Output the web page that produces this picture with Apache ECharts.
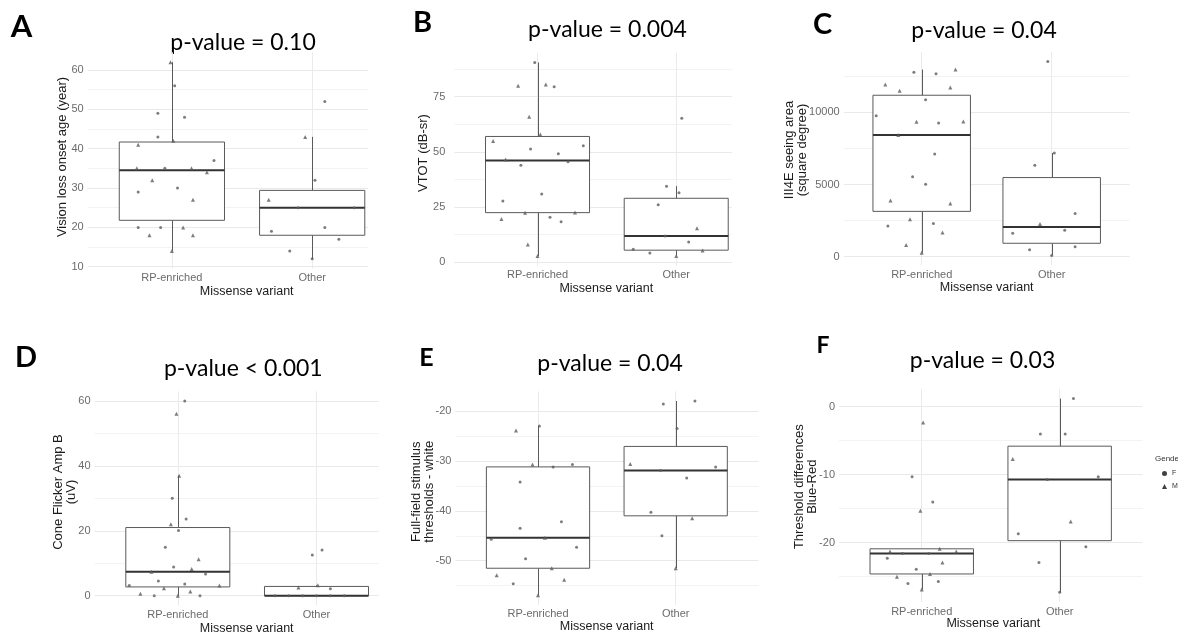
<!DOCTYPE html>
<html><head><meta charset="utf-8">
<script src="https://cdn.jsdelivr.net/npm/echarts@6/dist/echarts.min.js"></script>
<style>html,body{margin:0;padding:0;background:#fff}#chart{width:1178px;height:632px}</style>
</head><body><div id="chart"></div>
<script>
const categories = ['RP-enriched', 'Other'];
const genders = ['F', 'M'];
const legendTitle = 'Gender';
const xTitle = 'Missense variant';
const panelLetters = ['A', 'B', 'C', 'D', 'E', 'F'];
const pValueLabels = ['p-value = 0.10', 'p-value = 0.004', 'p-value = 0.04', 'p-value < 0.001', 'p-value = 0.04', 'p-value = 0.03'];
const yTitles = ['Vision loss onset age (year)', 'VTOT (dB-sr)', 'III4E seeing area\n(square degree)', 'Cone Flicker Amp B\n(uV)', 'Full-field stimulus\nthresholds - white', 'Threshold differences\nBlue-Red'];
const tickSteps = [10, 25, 5000, 20, 10, 10];

// Panel A: vision loss onset age
const A_rpValues = [62, 56, 49, 48, 43, 41, 42, 37, 35, 35, 35, 34, 32, 29, 30, 27, 20, 20, 20, 18, 18, 14];
const A_rpJitter = [-0.01, 0.02, -0.10, 0.09, -0.10, -0.24, 0.01, 0.30, -0.25, -0.05, 0.14, 0.25, -0.14, -0.24, 0.04, 0.15, -0.24, -0.08, 0.08, -0.16, 0.15, 0.00];
const A_rpGender = ['M','F','F','F','F','M','M','F','M','F','M','M','M','F','F','M','F','F','M','M','M','M'];
const A_otherValues = [52, 43, 32, 27, 25, 25, 19, 20, 17, 14, 12];
const A_otherJitter = [0.09, -0.05, 0.02, -0.31, -0.10, 0.30, -0.29, 0.09, 0.19, -0.16, 0.00];
const A_otherGender = ['F','M','F','M','F','F','F','F','F','F','F'];
const A_box = [[14, 21.8, 34.5, 41.7, 62], [12, 18, 25, 29.4, 43]];

// Panel B: VTOT
const B_rpValues = [90.5, 80, 80.5, 79.5, 65.9, 57.9, 54.9, 52.8, 51.3, 49.2, 46.6, 45.6, 44, 30.9, 27.8, 22.5, 22.6, 19.6, 20.4, 18.4, 8.1, 2.9];
const B_rpJitter = [-0.02, -0.14, 0.06, 0.12, -0.06, 0.02, -0.32, 0.33, -0.05, 0.15, -0.23, 0.22, -0.12, 0.03, -0.25, -0.09, 0.27, -0.26, 0.09, 0.17, -0.07, 0.00];
const B_rpGender = ['F','M','M','F','M','M','M','F','F','F','M','F','F','F','F','M','M','M','F','F','M','M'];
const B_otherValues = [65.2, 34.5, 31.5, 26.1, 15.4, 11.9, 9.2, 5.9, 4.2, 2.9, 5.4];
const B_otherJitter = [0.04, -0.07, 0.02, -0.13, 0.15, -0.08, 0.09, -0.31, -0.19, 0.00, 0.19];
const B_otherGender = ['F','F','F','F','M','F','F','F','F','M','M'];
const B_box = [[2.9, 22.5, 46.1, 57, 90.5], [2.9, 5.5, 11.9, 29, 34.5]];

// Panel C: III4E seeing area
const C_rpValues = [12780, 12660, 12960, 11920, 11490, 11720, 10870, 9760, 9350, 9250, 9370, 8430, 7110, 5530, 5020, 3890, 3680, 2600, 2120, 2300, 1680, 810, 280];
const C_rpJitter = [-0.06, 0.11, 0.26, -0.28, -0.17, 0.22, 0.03, -0.35, -0.04, 0.13, 0.32, -0.18, 0.10, -0.07, 0.03, -0.24, 0.22, -0.09, -0.26, 0.09, 0.16, -0.12, 0.00];
const C_rpGender = ['F','F','M','M','M','M','F','F','M','F','M','M','F','F','F','M','M','M','F','F','M','M','M'];
const C_otherValues = [13510, 7180, 6330, 2990, 2260, 1840, 1630, 480, 690, 90];
const C_otherJitter = [-0.03, 0.02, -0.13, 0.18, -0.09, 0.10, -0.30, -0.17, 0.18, 0.00];
const C_otherGender = ['F','F','F','F','M','F','F','F','F','F'];
const C_box = [[280, 3140, 8430, 11180, 12960], [90, 930, 2050, 5480, 7180]];

// Panel D: cone flicker amplitude
const D_rpValues = [60, 56.1, 37, 30, 22, 23.6, 20.1, 14.9, 11.2, 8.8, 8.2, 6.7, 7.4, 4.5, 3.6, 3.1, 3.1, 2.3, 0.6, 1.3, 0, 0, 0];
const D_rpJitter = [0.05, -0.01, 0.01, -0.04, -0.05, 0.06, 0.005, -0.09, 0.15, -0.03, 0.10, 0.20, -0.19, -0.14, 0.05, -0.35, 0.30, -0.10, -0.27, 0.09, -0.17, 0.00, 0.16];
const D_rpGender = ['F','M','M','F','M','F','F','F','M','F','M','F','M','F','F','F','M','M','M','M','F','M','F'];
const D_otherValues = [14.1, 12.5, 3.2, 2.5, 2.1, 0, 0, 0, 0, 0, 0];
const D_otherJitter = [0.04, -0.03, 0.01, -0.13, 0.10, -0.30, -0.20, -0.10, 0.00, 0.10, 0.20];
const D_otherGender = ['F','F','M','M','F','F','F','F','F','F','F'];
const D_box = [[0, 2.7, 7.4, 21, 37], [0, 0, 0, 2.85, 3.2]];

// Panel E: full-field stimulus thresholds - white
const E_rpValues = [-23, -23.9, -30.7, -31.2, -30.7, -34.2, -43.5, -42.2, -45.7, -45.4, -47.3, -49.6, -51.5, -52.9, -54.6, -53.8, -56.9];
const E_rpJitter = [0.01, -0.16, -0.04, 0.11, 0.25, -0.13, -0.13, 0.17, -0.34, 0.05, 0.28, -0.09, 0.10, -0.30, -0.18, 0.19, 0.00];
const E_rpGender = ['F','M','M','F','F','F','F','F','F','M','F','F','M','M','F','M','M'];
const E_otherValues = [-18.6, -18, -23.5, -30.6, -31.9, -31.2, -33.4, -40.3, -41.5, -45, -51.5];
const E_otherJitter = [-0.09, 0.14, 0.01, -0.33, -0.11, 0.29, 0.08, -0.18, 0.12, -0.10, 0.00];
const E_otherGender = ['F','F','F','M','F','F','F','F','M','F','M'];
const E_box = [[-56.9, -51.5, -45.4, -31.2, -23], [-51.5, -41, -31.9, -27.1, -18]];

// Panel F: threshold differences blue-red
const F_rpValues = [-2.3, -10.3, -14, -15.3, -21.3, -21.6, -21.6, -20.9, -21.3, -22.3, -22.9, -23.9, -24.6, -25, -26, -25.7, -26.9];
const F_rpJitter = [0.01, -0.07, 0.08, -0.01, -0.23, -0.14, 0.05, 0.13, 0.25, -0.25, 0.15, -0.04, 0.06, -0.18, -0.10, 0.12, 0.00];
const F_rpGender = ['M','F','F','M','M','F','F','M','M','F','M','F','M','M','F','F','M'];
const F_otherValues = [1.2, -4, -4, -7.7, -10.7, -10.3, -16.9, -18.7, -20.6, -22.9, -27.3];
const F_otherJitter = [0.10, -0.14, 0.04, -0.34, -0.09, 0.28, 0.08, -0.30, 0.19, -0.15, 0.00];
const F_otherGender = ['F','F','F','M','F','F','M','F','F','F','F'];
const F_box = [[-26.9, -24.6, -21.6, -20.9, -20.9], [-27.3, -19.7, -10.7, -5.8, 1.2]];

const panelData = [
  [[A_rpValues, A_rpJitter, A_rpGender], [A_otherValues, A_otherJitter, A_otherGender], A_box],
  [[B_rpValues, B_rpJitter, B_rpGender], [B_otherValues, B_otherJitter, B_otherGender], B_box],
  [[C_rpValues, C_rpJitter, C_rpGender], [C_otherValues, C_otherJitter, C_otherGender], C_box],
  [[D_rpValues, D_rpJitter, D_rpGender], [D_otherValues, D_otherJitter, D_otherGender], D_box],
  [[E_rpValues, E_rpJitter, E_rpGender], [E_otherValues, E_otherJitter, E_otherGender], E_box],
  [[F_rpValues, F_rpJitter, F_rpGender], [F_otherValues, F_otherJitter, F_otherGender], F_box]
];

// ---- layout & style (pixels) ----
const layout = [
  {grid: [87.7, 52.3, 280.6, 216.4], xMax: 2.4, yMargin: 4, letter: [21.5, 27, 31], p: [243, 42.5], yt: [62, 157], xt: [246.7, 291.7]},
  {grid: [454.3, 52.8, 277.4, 212.8], xMax: 2.4, yMargin: 9, letter: [422.5, 23, 29], p: [607.5, 29.7], yt: [423, 153], xt: [606.3, 288.3]},
  {grid: [843.7, 51.9, 286, 213.2], xMax: 2.6, yMargin: 4, letter: [822.5, 25, 29], p: [984, 30.8], yt: [796, 150], xt: [986.7, 287.3]},
  {grid: [94.6, 391.3, 284.3, 214.1], xMax: 2.45, yMargin: 4, letter: [26, 358, 29], p: [243.3, 369], yt: [64.5, 492], xt: [246.7, 628.3]},
  {grid: [455.4, 391.3, 302.9, 213.6], xMax: 2.6, yMargin: 4, letter: [426.5, 357.5, 25], p: [610, 364], yt: [422.5, 491.7], xt: [606.7, 626.7]},
  {grid: [839, 388.9, 303.4, 213.1], xMax: 2.6, yMargin: 4, letter: [823, 346, 23], p: [982.5, 361], yt: [805.8, 486.7], xt: [993.3, 624]}
];
const BOX_HALF = 0.375;
const boxStroke = '#5a5a5a';
const pointColor = '#5c5c5c';
const tickFont = 'Liberation Sans';
const titleFont = 'Lato';

function renderBox(params, api) {
  const x = api.value(0);
  const pMin = api.coord([x, api.value(1)]);
  const pQ1 = api.coord([x - BOX_HALF, api.value(2)]);
  const pMedL = api.coord([x - BOX_HALF, api.value(3)]);
  const pMedR = api.coord([x + BOX_HALF, api.value(3)]);
  const pQ3 = api.coord([x + BOX_HALF, api.value(4)]);
  const pMax = api.coord([x, api.value(5)]);
  const cx = Math.round(pMin[0]) + 0.5;
  const ls = {stroke: boxStroke, lineWidth: 1};
  return {type: 'group', children: [
    {type: 'line', shape: {x1: cx, y1: pMax[1], x2: cx, y2: pQ3[1]}, style: ls},
    {type: 'line', shape: {x1: cx, y1: pQ1[1], x2: cx, y2: pMin[1]}, style: ls},
    {type: 'rect', shape: {x: pQ1[0], y: pQ3[1], width: pQ3[0] - pQ1[0], height: pQ1[1] - pQ3[1]}, style: {fill: '#fff', stroke: boxStroke, lineWidth: 1}},
    {type: 'line', shape: {x1: pMedL[0], y1: pMedL[1], x2: pMedR[0], y2: pMedR[1]}, style: {stroke: '#333', lineWidth: 2}}
  ]};
}

function isMultiple(v, step) { const r = v / step; return Math.abs(r - Math.round(r)) < 1e-6; }

const grids = [], xAxes = [], yAxes = [], series = [], graphics = [];
panelData.forEach((pd, i) => {
  const L = layout[i];
  const groups = [pd[0], pd[1]];
  const box = pd[2];
  let lo = Infinity, hi = -Infinity;
  groups.forEach(g => g[0].forEach(v => { lo = Math.min(lo, v); hi = Math.max(hi, v); }));
  box.forEach(b => { lo = Math.min(lo, b[0]); hi = Math.max(hi, b[4]); });
  const pad = (hi - lo) * 0.05;
  const step = tickSteps[i];
  grids.push({left: L.grid[0], top: L.grid[1], width: L.grid[2], height: L.grid[3]});
  xAxes.push({
    type: 'value', gridIndex: i, min: 0.4, max: L.xMax, minInterval: 1, maxInterval: 1,
    axisLine: {show: false}, axisTick: {show: false},
    splitLine: {show: true, showMinLine: false, showMaxLine: false, lineStyle: {color: '#ebebeb', width: 1}},
    axisLabel: {margin: 4, fontSize: 11, fontFamily: tickFont, color: '#6b6b6b',
      formatter: v => (Math.abs(v - 1) < 1e-6 ? categories[0] : (Math.abs(v - 2) < 1e-6 ? categories[1] : ''))}
  });
  yAxes.push({
    type: 'value', gridIndex: i, min: lo - pad, max: hi + pad, minInterval: step, maxInterval: step,
    axisLine: {show: false}, axisTick: {show: false},
    splitLine: {show: true, showMinLine: false, showMaxLine: false, lineStyle: {color: '#e9e9e9', width: 1}},
    minorTick: {show: false, splitNumber: 2},
    minorSplitLine: {show: true, lineStyle: {color: '#f3f3f3', width: 1}},
    axisLabel: {margin: L.yMargin, fontSize: 11, fontFamily: tickFont, color: '#6b6b6b',
      formatter: v => (isMultiple(v, step) ? String(Math.round(v)) : '')}
  });
  series.push({
    type: 'custom', xAxisIndex: i, yAxisIndex: i, renderItem: renderBox, silent: true, z: 2,
    encode: {x: 0, y: [1, 2, 3, 4, 5]},
    data: box.map((b, k) => [k + 1].concat(b))
  });
  genders.forEach((gname, gi) => {
    const pts = [];
    groups.forEach((g, k) => {
      g[0].forEach((v, j) => { if (g[2][j] === gname) pts.push([k + 1 + g[1][j], v]); });
    });
    series.push({
      type: 'scatter', name: gname, xAxisIndex: i, yAxisIndex: i, z: 3, silent: true,
      symbol: gi === 0 ? 'circle' : 'triangle', symbolSize: gi === 0 ? 3 : 4,
      itemStyle: {color: pointColor}, data: pts
    });
  });
  graphics.push({type: 'text', x: L.letter[0], y: L.letter[1], style: {text: panelLetters[i], fontFamily: titleFont, fontWeight: 'bold', fontSize: L.letter[2], fill: '#000', align: 'center', verticalAlign: 'middle'}});
  graphics.push({type: 'text', x: L.p[0], y: L.p[1], style: {text: pValueLabels[i], fontFamily: titleFont, fontSize: 23, fill: '#000', align: 'center', verticalAlign: 'middle'}});
  graphics.push({type: 'text', x: L.yt[0], y: L.yt[1], rotation: Math.PI / 2, style: {text: yTitles[i], fontFamily: tickFont, fontSize: 13, lineHeight: 13, fill: '#1a1a1a', align: 'center', verticalAlign: 'middle'}});
  graphics.push({type: 'text', x: L.xt[0], y: L.xt[1], style: {text: xTitle, fontFamily: tickFont, fontSize: 12.5, fill: '#1a1a1a', align: 'center', verticalAlign: 'middle'}});
});
graphics.push({type: 'text', x: 1155, y: 459, style: {text: legendTitle, fontFamily: tickFont, fontSize: 8, fill: '#333', align: 'left', verticalAlign: 'middle'}});

const chart = echarts.init(document.getElementById('chart'), null, {renderer: 'canvas'});
chart.setOption({
  animation: false,
  backgroundColor: '#fff',
  grid: grids, xAxis: xAxes, yAxis: yAxes, series: series,
  legend: {data: genders, orient: 'vertical', left: 1162, top: 470, padding: 0, itemWidth: 5, itemHeight: 5, itemGap: 6,
    itemStyle: {color: '#111'}, textStyle: {fontSize: 7, fontFamily: tickFont, color: '#333'}, selectedMode: false},
  graphic: graphics
});
</script></body></html>
